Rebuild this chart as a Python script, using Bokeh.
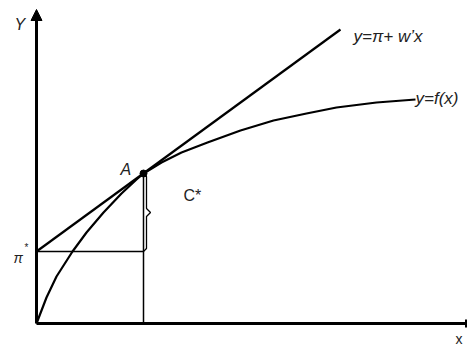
from bokeh.plotting import figure
from bokeh.models import Range1d, Arrow, NormalHead, TeeHead, Label
from bokeh.embed import file_html
from bokeh.resources import INLINE

# ---- data (arbitrary units, origin at axes corner) ----
curve_x = [0, 10, 20, 36, 50, 67, 85, 100, 107, 125, 145, 171, 204, 237, 270, 300, 340, 379]
curve_y = [0, 26, 47, 72, 91, 111, 130, 144, 150, 161, 171, 181, 193, 203, 210, 216, 221, 224]
line_x = [0, 304]
line_y = [72, 294]
point_a = (107, 150)
pi_star = 72
x_axis_end = 430
y_axis_end = 314

FONT = "Liberation Sans"

p = figure(width=467, height=347, output_backend="svg", toolbar_location=None,
           x_range=Range1d(-36, 431), y_range=Range1d(-24, 323),
           x_axis_type=None, y_axis_type=None, min_border=0)
p.grid.visible = False
p.outline_line_color = None
p.background_fill_color = "white"

# axes as arrows
p.add_layout(Arrow(end=NormalHead(size=11, fill_color="black", line_color="black", line_width=1),
                   x_start=0, y_start=0, x_end=0, y_end=y_axis_end,
                   line_width=3, line_color="black"))
p.add_layout(Arrow(end=TeeHead(size=8, line_width=3, line_color="black"),
                   x_start=0, y_start=0, x_end=x_axis_end, y_end=0,
                   line_width=3, line_color="black"))

# guide lines
ax, ay = point_a
p.line([0, ax], [pi_star, pi_star], line_color="black", line_width=1.5)
p.line([ax, ax], [0, ay], line_color="black", line_width=1.5)

# brace between pi* and A
bx = ax + 3
mid = (ay + pi_star) / 2
p.line([ax, bx, bx, bx + 4, bx, bx, ax],
       [ay - 1, ay - 3, mid + 4, mid, mid - 4, pi_star + 3, pi_star],
       line_color="black", line_width=1.3)

# tangent line and production curve
p.line(line_x, line_y, line_color="black", line_width=2.2)
p.line(curve_x, curve_y, line_color="black", line_width=2.2, line_join="round")

p.scatter([ax], [ay], size=7, marker="circle", fill_color="black", line_color="black")

def lab(x, y, t, size="16px", style="italic"):
    p.add_layout(Label(x=x, y=y, text=t, text_font=FONT, text_font_size=size,
                       text_font_style=style, text_color="#222222",
                       text_baseline="alphabetic", text_align="left"))

lab(317, 287, "y=π+ w’x", size="17px")
lab(379, 225, "y=f(x)", size="17px")
lab(84, 154, "A")
lab(147, 128, "C*", style="normal")
lab(-22, 299, "Y")
lab(-23, 66, "π", size="14px")
lab(-12, 76, "*", size="10px", style="normal")
lab(419, -15, "x", size="14px", style="normal")

open("out.html", "w").write(file_html(p, INLINE))
